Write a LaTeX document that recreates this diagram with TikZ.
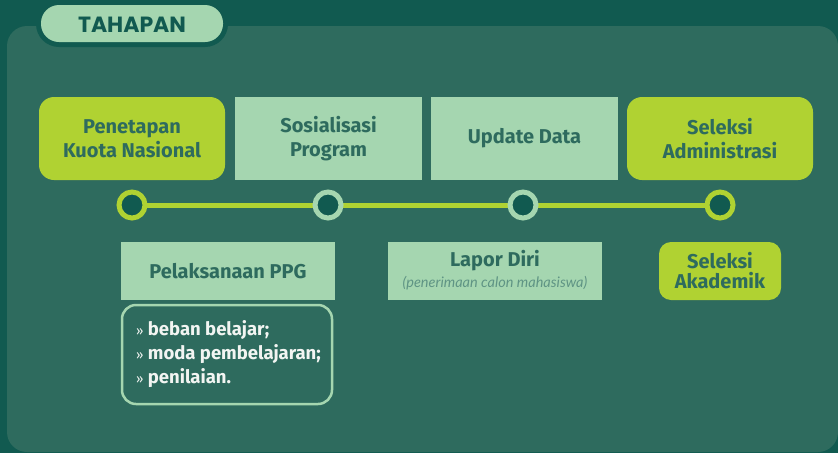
\documentclass[tikz,border=0pt]{standalone}
\usepackage{fontspec}
\setmainfont{Fira Sans}
\newfontfamily\popfont{Poppins}
\newfontfamily\latofont{Lato}
\definecolor{bgdark}{HTML}{115A50}
\definecolor{panel}{HTML}{2E6B5E}
\definecolor{lime}{HTML}{B0D232}
\definecolor{mint}{HTML}{A5D6B0}
\definecolor{txtdark}{HTML}{2E6B5E}
\definecolor{txtital}{HTML}{5F9484}
\definecolor{listtxt}{HTML}{F2F5F2}
\tikzset{
  base/.style={inner sep=0pt, align=center, text=txtdark, font=\fontsize{20}{24}\selectfont\bfseries},
  limebox/.style={base, fill=lime, rounded corners=15pt},
  mintbox/.style={base, fill=mint},
  ringlime/.style={circle, draw=lime, line width=5pt, fill=bgdark, minimum size=26pt, inner sep=0pt},
  ringmint/.style={circle, draw=mint, line width=5pt, fill=bgdark, minimum size=26pt, inner sep=0pt},
}
\begin{document}
\begin{tikzpicture}[x=1pt,y=-1pt]
\useasboundingbox (0,0) rectangle (838,453);
\fill[bgdark] (0,0) rectangle (838,453);
\fill[panel, rounded corners=20pt] (7,26) rectangle (838,452);
% title pill
\fill[bgdark, rounded corners=23pt] (36,0) rectangle (228,47);
\fill[mint, rounded corners=18pt] (41,5) rectangle (223,42);
\node[font=\popfont\fontsize{22}{24}\selectfont\bfseries, text=bgdark] (title) at (132,25) {TAHAPAN};
% top boxes
\node[limebox, minimum width=186pt, minimum height=83pt] (b1) at (132,138.5) {Penetapan\\Kuota Nasional};
\node[mintbox, minimum width=187pt, minimum height=83pt] (b2) at (328.5,138.5) {Sosialisasi\\Program};
\node[mintbox, minimum width=187pt, minimum height=83pt] (b3) at (524.5,138.5) {Update Data};
\node[limebox, minimum width=186pt, minimum height=83pt] (b4) at (720,138.5) {Seleksi\\Administrasi};
% timeline
\coordinate (p1) at (132,205);
\coordinate (p2) at (328,205);
\coordinate (p3) at (523,205);
\coordinate (p4) at (720,205);
\draw[lime, line width=5pt] (p1) -- (p4);
\node[ringlime] (c1) at (p1) {};
\node[ringmint] (c2) at (p2) {};
\node[ringmint] (c3) at (p3) {};
\node[ringlime] (c4) at (p4) {};
% bottom boxes
\node[mintbox, minimum width=214pt, minimum height=58pt] (d1) at (228,271) {Pelaksanaan PPG};
\node[mintbox, minimum width=214pt, minimum height=58pt] (d2) at (495,271) {};
\node[base, text=txtdark] (lapor) at (495,261) {Lapor Diri};
\node[font=\latofont\fontsize{14.5}{16}\selectfont\itshape, text=txtital, inner sep=0pt] (laporsub) at (495,283) {(penerimaan calon mahasiswa)};
\node[limebox, rounded corners=12pt, minimum width=122pt, minimum height=58pt, font=\fontsize{20}{20}\selectfont\bfseries] (d3) at (720,271) {Seleksi\\Akademik};
% list box
\draw[mint, line width=2.5pt, rounded corners=14pt] (122,305) rectangle (332,404);
\node[anchor=north west, inner sep=0pt, align=left, text=listtxt, font=\fontsize{18.5}{24}\selectfont\bfseries] (list) at (136,320)
  {{\mdseries\fontsize{13}{24}\selectfont»}\ beban belajar;\\{\mdseries\fontsize{13}{24}\selectfont»}\ moda pembelajaran;\\{\mdseries\fontsize{13}{24}\selectfont»}\ penilaian.};
\end{tikzpicture}
\end{document}
